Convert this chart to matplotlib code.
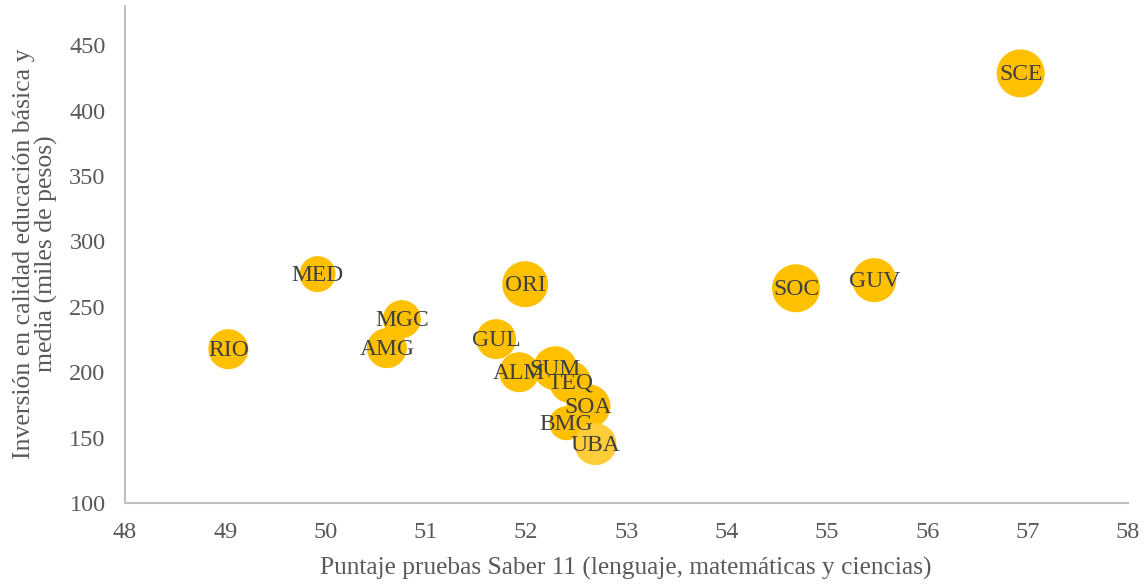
import numpy as np
import matplotlib.pyplot as plt

# datos
etiquetas = ["RIO", "MED", "MGC", "AMG", "ORI", "GUL", "ALM", "SUM", "TEQ",
             "SOA", "BMG", "UBA", "SOC", "GUV", "SCE"]
puntaje = [49.03, 49.92, 50.76, 50.61, 51.99, 51.70, 51.93, 52.29, 52.44,
           52.62, 52.40, 52.69, 54.69, 55.47, 56.93]
inversion = [217.6, 275.0, 240.6, 218.4, 267.3, 225.3, 200.0, 203.0, 192.4,
             174.0, 161.0, 145.0, 264.2, 270.4, 428.5]
tamano = [20, 18, 19, 20, 23, 20, 20, 22, 21, 22, 17, 21, 24, 22, 24]

plt.rcParams['font.family'] = ['Liberation Serif', 'DejaVu Serif']

fig = plt.figure(figsize=(11.44, 5.84), dpi=100)
ax = fig.add_axes([0.1093, 0.1387, 0.8767, 0.851])

s = (np.array(tamano) * 72 / 100.0 * 2) ** 2
colores = ['#FFC000'] * len(etiquetas)
colores[etiquetas.index("UBA")] = '#FFCC3A'
ax.scatter(puntaje, inversion, s=s, c=colores, edgecolors='none', zorder=2)
for x, y, t in zip(puntaje, inversion, etiquetas):
    ax.text(x, y - 1, t, ha='center', va='center', fontsize=17, color='#404040', zorder=3)

ax.set_xlim(48, 58)
ax.set_ylim(100, 480)
ax.set_xticks(range(48, 59))
ax.set_yticks(range(100, 451, 50))
ax.tick_params(length=0, labelsize=17.5, labelcolor='#595959')
ax.tick_params(axis='x', pad=14)
ax.tick_params(axis='y', pad=14)
for sp in ['top', 'right']:
    ax.spines[sp].set_visible(False)
for sp in ['left', 'bottom']:
    ax.spines[sp].set_color('#BFBFBF')
    ax.spines[sp].set_linewidth(1.5)

fig.text(0.547, 0.027, "Puntaje pruebas Saber 11 (lenguaje, matemáticas y ciencias)",
         ha='center', va='center', fontsize=18.3, color='#595959')
fig.text(0.031, 0.565, "Inversión en calidad educación básica y\nmedia (miles de pesos)",
         ha='center', va='center', rotation=90, fontsize=18.5, color='#595959',
         linespacing=1.0)

fig.savefig('out.png', dpi=100)
